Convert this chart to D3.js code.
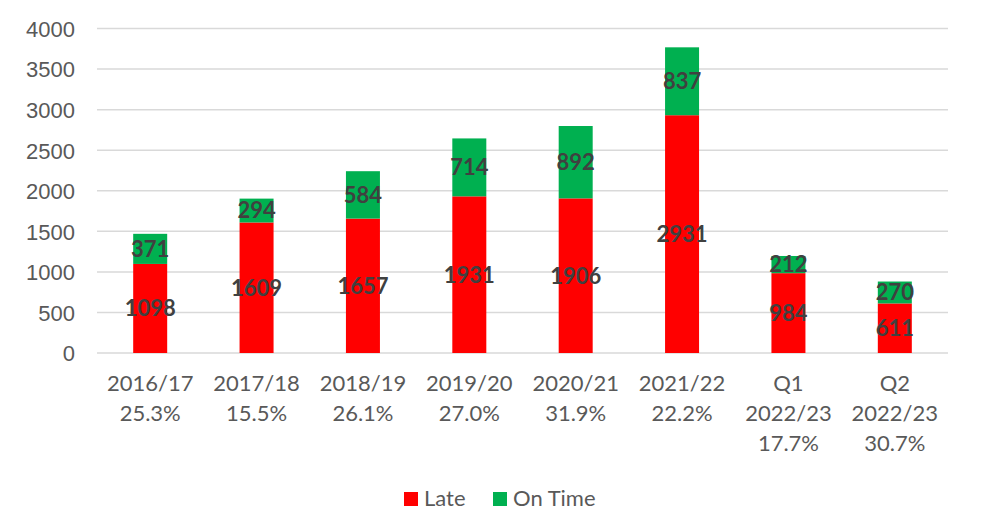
<!DOCTYPE html>
<html>
  <head>
    <meta charset="UTF-8" />
    <title>Late vs On Time</title>
    <script src="https://cdnjs.cloudflare.com/ajax/libs/d3/7.8.5/d3.min.js"></script>
    <style>
      body { margin: 0; padding: 0; background: #fff; }
      svg { display: block; font-family: Lato, "Open Sans", sans-serif; }
      .tick text { fill: #595959; font-size: 22px; }
      .lbl { fill: #404040; font-size: 22px; font-weight: bold; text-anchor: middle; }
    </style>
  </head>
  <body>
    <svg id="chart" width="989" height="526"></svg>
    <script>
      // data
      const categories = [
        ["2016/17", "25.3%"],
        ["2017/18", "15.5%"],
        ["2018/19", "26.1%"],
        ["2019/20", "27.0%"],
        ["2020/21", "31.9%"],
        ["2021/22", "22.2%"],
        ["Q1", "2022/23", "17.7%"],
        ["Q2", "2022/23", "30.7%"]
      ];
      const late = [1098, 1609, 1657, 1931, 1906, 2931, 984, 611];
      const onTime = [371, 294, 584, 714, 892, 837, 212, 270];
      const yTicks = [0, 500, 1000, 1500, 2000, 2500, 3000, 3500, 4000];
      const seriesNames = ["Late", "On Time"];
      const colors = ["#ff0000", "#00b050"];

      const svg = d3.select("#chart");
      const plotLeft = 97, plotRight = 948, plotTop = 28.5, plotBottom = 353;

      const x = d3.scaleBand()
        .domain(d3.range(categories.length))
        .range([plotLeft, plotRight]);
      const y = d3.scaleLinear().domain([0, 4000]).range([plotBottom, plotTop]);
      const barW = 34;

      // gridlines
      svg.append("g").selectAll("line")
        .data(yTicks)
        .join("line")
        .attr("x1", plotLeft).attr("x2", plotRight)
        .attr("y1", d => y(d)).attr("y2", d => y(d))
        .attr("stroke", "#d9d9d9")
        .attr("stroke-width", 1.5);

      // y axis labels
      const yAxis = svg.append("g")
        .attr("transform", `translate(${plotLeft - 22},0)`)
        .call(d3.axisLeft(y).tickValues(yTicks).tickFormat(d3.format("d")).tickSize(0).tickPadding(0));
      yAxis.select(".domain").remove();
      yAxis.selectAll("text").attr("dy", "0.36em");

      // stacked bars
      const rows = late.map((v, i) => ({ i, late: v, onTime: onTime[i] }));
      const stack = d3.stack().keys(["late", "onTime"])(rows);

      stack.forEach((layer, k) => {
        svg.append("g").selectAll("rect")
          .data(layer)
          .join("rect")
          .attr("x", d => x(d.data.i) + x.bandwidth() / 2 - barW / 2)
          .attr("width", barW)
          .attr("y", d => y(d[1]))
          .attr("height", d => y(d[0]) - y(d[1]))
          .attr("fill", colors[k]);
      });
      // labels on top of all bars
      stack.forEach(layer => {
        svg.append("g").selectAll("text")
          .data(layer)
          .join("text")
          .attr("class", "lbl")
          .attr("x", d => x(d.data.i) + x.bandwidth() / 2)
          .attr("y", d => y((d[0] + d[1]) / 2))
          .attr("dy", "0.36em")
          .text(d => d[1] - d[0]);
      });

      // category labels (multi-line)
      const cat = svg.append("g").selectAll("text")
        .data(categories)
        .join("text")
        .attr("text-anchor", "middle")
        .attr("fill", "#595959")
        .attr("font-size", 22);
      cat.each(function(lines, i) {
        d3.select(this).selectAll("tspan")
          .data(lines)
          .join("tspan")
          .attr("x", x(i) + x.bandwidth() / 2)
          .attr("y", (d, j) => 383 + j * 30)
          .attr("dy", "0.36em")
          .text(d => d);
      });

      // legend
      const legendX = [404, 493];
      const leg = svg.append("g").selectAll("g")
        .data(seriesNames)
        .join("g")
        .attr("transform", (d, i) => `translate(${legendX[i]},492)`);
      leg.append("rect")
        .attr("width", 14).attr("height", 14)
        .attr("fill", (d, i) => colors[i]);
      leg.append("text")
        .attr("x", 20).attr("y", 6).attr("dy", "0.36em")
        .attr("fill", "#595959").attr("font-size", 22)
        .text(d => d);
    </script>
  </body>
</html>
